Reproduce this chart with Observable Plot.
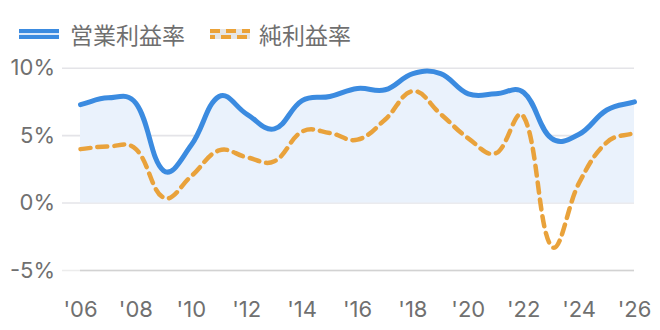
<!DOCTYPE html>
<html><head><meta charset="utf-8">
<script src="https://cdn.jsdelivr.net/npm/d3@7"></script>
<script src="https://cdn.jsdelivr.net/npm/@observablehq/plot@0.6"></script>
<style>
body{margin:0;background:#fff;font-family:Inter,"Noto Sans CJK JP",sans-serif;}
#legend{position:relative;height:50px;width:660px;}
.sw{position:absolute;top:29px;width:40px;height:10px;box-sizing:border-box;}
.lt{position:absolute;top:19px;font-size:23px;line-height:30px;color:#6f6f6f;font-family:"Noto Sans CJK JP",sans-serif;}
</style></head>
<body>
<div id="legend">
  <div class="sw" style="left:19px;background:#3b8be0;"><div style="margin-top:4px;height:2px;background:#dbe9fa"></div></div>
  <div class="lt" style="left:70px">営業利益率</div>
  <svg class="sw" style="left:210px;overflow:visible" width="40" height="10"><rect x="0" y="0" width="40" height="10" fill="#e6e6e6"/><line x1="0" y1="2" x2="40" y2="2" stroke="#eba238" stroke-width="4" stroke-dasharray="10,6"/><line x1="0" y1="8" x2="40" y2="8" stroke="#eba238" stroke-width="4" stroke-dasharray="10,6" stroke-dashoffset="5"/></svg>
  <div class="lt" style="left:259px">純利益率</div>
</div>
<div id="chart"></div>
<script>
const years = [2006,2007,2008,2009,2010,2011,2012,2013,2014,2015,2016,2017,2018,2019,2020,2021,2022,2023,2024,2025,2026];
const opMargin = [7.3,7.8,7.4,2.4,4.3,7.9,6.6,5.5,7.6,7.9,8.5,8.4,9.6,9.6,8.1,8.1,8.2,4.8,5.1,6.9,7.5];
const netMargin = [4.0,4.2,4.0,0.4,2.0,3.9,3.4,3.1,5.3,5.2,4.7,6.2,8.3,6.6,4.8,3.7,6.4,-3.2,1.5,4.5,5.2];
const xTicks = [2006,2008,2010,2012,2014,2016,2018,2020,2022,2024,2026];
const xTickLabels = ["'06","'08","'10","'12","'14","'16","'18","'20","'22","'24","'26"];
const yTicks = [-5,0,5,10];
const yTickLabels = ["-5%","0%","5%","10%"];

const op = years.map((y,i)=>({year:y, v:opMargin[i]}));
const net = years.map((y,i)=>({year:y, v:netMargin[i]}));

// Chart.js-style tension spline (tension 0.4) as a d3 curve factory
function splineCurve(context){
  const t = 0.4;
  let pts = [], line = NaN;
  return {
    areaStart(){ line = 0; },
    areaEnd(){ line = NaN; },
    lineStart(){ pts = []; },
    point(x,y){ pts.push([+x,+y]); },
    lineEnd(){
      const n = pts.length;
      if (n) {
        line ? context.lineTo(pts[0][0],pts[0][1]) : context.moveTo(pts[0][0],pts[0][1]);
        const cp = pts.map((c,i)=>{
          const p = pts[i-1] || c, nx = pts[i+1] || c;
          const d01 = Math.sqrt(Math.hypot(c[0]-p[0], c[1]-p[1]));
          const d12 = Math.sqrt(Math.hypot(nx[0]-c[0], nx[1]-c[1]));
          let s01 = d01/(d01+d12), s12 = d12/(d01+d12);
          if (!isFinite(s01)) s01 = 0; if (!isFinite(s12)) s12 = 0;
          const fa = t*s01, fb = t*s12;
          return {
            prev:[c[0]-fa*(nx[0]-p[0]), c[1]-fa*(nx[1]-p[1])],
            next:[c[0]+fb*(nx[0]-p[0]), c[1]+fb*(nx[1]-p[1])]
          };
        });
        for (let i=1;i<n;i++){
          const a = cp[i-1].next, b = cp[i].prev;
          context.bezierCurveTo(a[0],a[1],b[0],b[1],pts[i][0],pts[i][1]);
        }
      }
      if (line || (line !== 0 && n === 1)) context.closePath();
      line = 1 - line;
    }
  };
}

const chart = Plot.plot({
  width:660, height:280,
  marginLeft:62, marginRight:26, marginTop:17.7, marginBottom:60,
  x:{domain:[2006,2026], insetLeft:18, axis:null},
  y:{domain:[-5,10], axis:null},
  style:{fontFamily:"Inter, 'Noto Sans CJK JP', sans-serif", background:"#fff"},
  marks:[
    Plot.ruleY([0,5,10], {stroke:"#e4e4e8", strokeWidth:1.6}),
    Plot.ruleY([-5], {stroke:"#ececec", strokeWidth:1.6}),
    Plot.ruleY([-5], {x1:2006, x2:2026, stroke:"#d2d2d2", strokeWidth:1.6}),
    Plot.areaY(op, {x:"year", y1:0, y2:"v", fill:"#eaf2fc", curve:splineCurve}),
    Plot.line(net, {x:"year", y:"v", stroke:"#e9a23b", strokeWidth:4.5, strokeDasharray:"10,7", curve:splineCurve}),
    Plot.line(op, {x:"year", y:"v", stroke:"#3b8be0", strokeWidth:5, curve:splineCurve}),
    Plot.text(yTicks, {x:2006, y:d=>d, text:(d,i)=>yTickLabels[i], textAnchor:"end", dx:-25.5, fontSize:22, fill:"#707070"}),
    Plot.text(xTicks, {x:d=>d, y:-5, text:(d,i)=>xTickLabels[i], dy:39, fontSize:22, fill:"#707070"})
  ]
});
document.getElementById("chart").appendChild(chart);
</script>
</body></html>
